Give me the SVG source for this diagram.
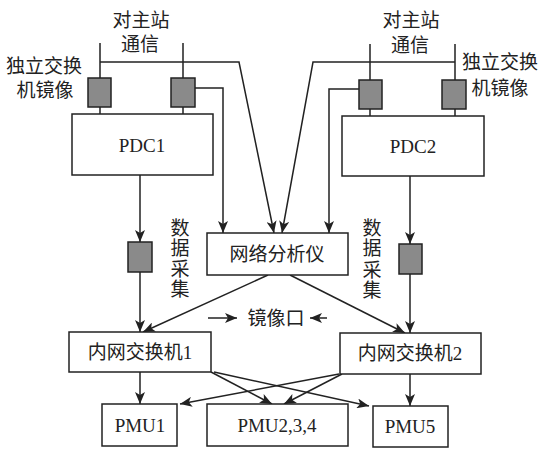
<svg xmlns="http://www.w3.org/2000/svg" width="543" height="451" viewBox="0 0 543 451">
<style>
.bx{fill:#fff;stroke:#222;stroke-width:1.5}
.sm{fill:#8a8a8a;stroke:#222;stroke-width:1.5}
.ln{fill:none;stroke:#222;stroke-width:1.5}
.ar{marker-end:url(#ah)}
text{font-family:"Liberation Serif","Noto Sans CJK SC",serif;font-size:19px;fill:#222;text-anchor:middle}
</style>
<defs>
<marker id="ah" markerUnits="userSpaceOnUse" markerWidth="12" markerHeight="10" viewBox="0 0 12 10" refX="12" refY="5" orient="auto">
<path d="M0,0 L12,5 L0,10 L3,5 Z" fill="#222"/>
</marker>
</defs>
<rect width="543" height="451" fill="#fff"/>
<g id="connectors">
<path class="ln" d="M100,43 V78 M100,107 V114 M183,43 V78 M183,107 V114"/>
<path class="ln" d="M370,44 V80 M370,109 V116 M455,44 V80 M455,109 V116"/>
<path class="ln ar" d="M100,62 H239 L274,233"/>
<path class="ln ar" d="M195,88 H223 V233"/>
<path class="ln ar" d="M359,89 H329 V233"/>
<path class="ln ar" d="M455,62 H313 L282,233"/>
<path class="ln ar" d="M140,175 V242"/>
<path class="ln ar" d="M140,272 V332"/>
<path class="ln ar" d="M410,176 V244"/>
<path class="ln ar" d="M410,274 V333"/>
<path class="ln ar" d="M268,275 L143,332"/>
<path class="ln ar" d="M290,275 L405,333"/>
<path class="ln ar" d="M140,372 V404"/>
<path class="ln ar" d="M410,374 V406"/>
<path class="ln ar" d="M211,372 L272,404"/>
<path class="ln ar" d="M214,372 L369,406"/>
<path class="ln ar" d="M339,374 L180,404"/>
<path class="ln ar" d="M342,374 L284,404"/>
<path class="ln ar" d="M208,318 H237"/>
<path class="ln ar" d="M327,318 H310"/>
</g>
<g id="mirror1a"><rect class="sm" x="88" y="78" width="23" height="29"/></g>
<g id="mirror1b"><rect class="sm" x="171" y="78" width="24" height="29"/></g>
<g id="mirror2a"><rect class="sm" x="359" y="80" width="23" height="29"/></g>
<g id="mirror2b"><rect class="sm" x="442" y="80" width="24" height="29"/></g>
<g id="collect1"><rect class="sm" x="128" y="242" width="24" height="30"/></g>
<g id="collect2"><rect class="sm" x="399" y="244" width="23" height="30"/></g>
<g id="pdc1"><rect class="bx" x="72" y="114" width="141" height="61"/><text x="142" y="152">PDC1</text></g>
<g id="pdc2"><rect class="bx" x="342" y="116" width="142" height="60"/><text x="413" y="153">PDC2</text></g>
<g id="analyzer"><rect class="bx" x="207" y="233" width="141" height="42"/><text x="277" y="261">网络分析仪</text></g>
<g id="switch1"><rect class="bx" x="69" y="332" width="142" height="40"/><text x="140" y="359">内网交换机1</text></g>
<g id="switch2"><rect class="bx" x="340" y="333" width="141" height="41"/><text x="410" y="360">内网交换机2</text></g>
<g id="pmu1"><rect class="bx" x="102" y="404" width="75" height="42"/><text x="140" y="432">PMU1</text></g>
<g id="pmu234"><rect class="bx" x="207" y="404" width="141" height="42"/><text x="277" y="432">PMU2,3,4</text></g>
<g id="pmu5"><rect class="bx" x="373" y="406" width="75" height="41"/><text x="410" y="433">PMU5</text></g>
<g id="labels">
<text x="141" y="27">对主站</text>
<text x="140" y="51">通信</text>
<text x="411" y="27">对主站</text>
<text x="410" y="52">通信</text>
<text x="44" y="73">独立交换</text>
<text x="45" y="97">机镜像</text>
<text x="500" y="69">独立交换</text>
<text x="500" y="95">机镜像</text>
<text x="276" y="325">镜像口</text>
<text x="180" y="235">数</text>
<text x="180" y="255">据</text>
<text x="180" y="276">采</text>
<text x="180" y="296">集</text>
<text x="372" y="235">数</text>
<text x="372" y="255">据</text>
<text x="372" y="277">采</text>
<text x="372" y="297">集</text>
</g>
</svg>
